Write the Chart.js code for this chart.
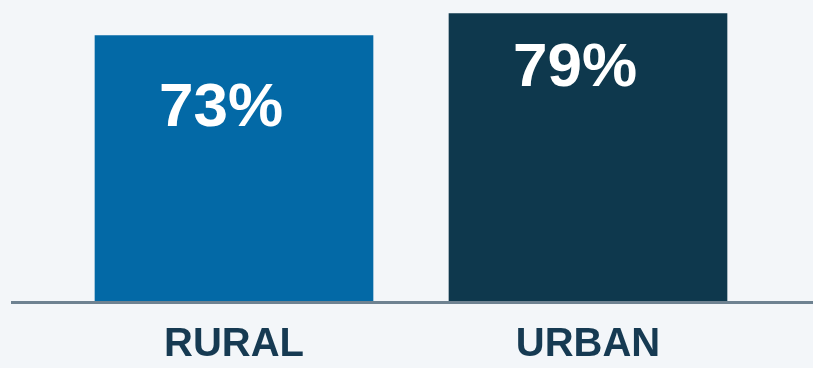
<!DOCTYPE html>
<html>
<head>
<meta charset="utf-8">
<script src="https://cdn.jsdelivr.net/npm/chart.js@4"></script>
<style>
  html, body { margin: 0; padding: 0; background: #f3f6f9; }
  #wrap { width: 813px; height: 368px; }
</style>
</head>
<body>
<div id="wrap"><canvas id="share"></canvas></div>
<script>
var categories = ["RURAL", "URBAN"];
var shares = [73, 79];
var barColors = ['#0369a6', '#0e384d'];

// draws the big % numbers inside each bar and the long baseline
var barText = {
    id: 'barText',
    afterDatasetsDraw: function (chart, args, opts) {
        var c = chart.ctx;
        var meta = chart.getDatasetMeta(0);
        c.save();
        c.fillStyle = '#ffffff';
        c.font = 'bold 62px "Liberation Sans", Arial, sans-serif';
        c.textAlign = 'center';
        c.textBaseline = 'alphabetic';
        meta.data.forEach(function (bar, i) {
            c.fillText(shares[i] + '%', bar.x + opts.dx, bar.y + opts.dy[i]);
        });
        // baseline
        var y0 = chart.scales.y.getPixelForValue(0);
        c.fillStyle = '#6e8291';
        c.fillRect(11, y0, chart.width - 11, 3);
        c.restore();
    }
};

var ctx = document.getElementById('share').getContext('2d');
var chart = new Chart(ctx, {
    type: 'bar',
    data: {
        labels: categories,
        datasets: [{
            data: shares,
            backgroundColor: barColors,
            barThickness: 278
        }]
    },
    options: {
        responsive: true,
        maintainAspectRatio: false,
        animation: false,
        layout: { padding: { left: 57, right: 48, top: 10, bottom: -13 } },
        plugins: {
            legend: { display: false },
            tooltip: { enabled: false },
            barText: { dx: -13, dy: [91, 72] }
        },
        scales: {
            x: {
                grid: { display: false },
                border: { display: false },
                ticks: {
                    color: '#163a52',
                    padding: 12,
                    font: { family: '"Liberation Sans", Arial, sans-serif', size: 40, weight: 'bold' }
                }
            },
            y: {
                display: false,
                min: 0,
                max: 80
            }
        }
    },
    plugins: [barText]
});
</script>
</body>
</html>
